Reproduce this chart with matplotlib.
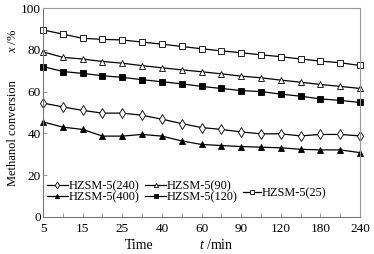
import matplotlib
matplotlib.use("Agg")
import matplotlib.pyplot as plt
import numpy as np

plt.rcParams['font.family'] = ['Liberation Serif', 'DejaVu Serif']
plt.rcParams['mathtext.fontset'] = 'custom'
plt.rcParams['mathtext.it'] = 'Liberation Serif:italic'
plt.rcParams['mathtext.rm'] = 'Liberation Serif'

time_labels = ["5", "10", "15", "20", "25", "30", "40", "50", "60", "75",
               "90", "105", "120", "150", "180", "210", "240"]
shown_labels = ["5", "15", "25", "40", "60", "90", "120", "180", "240"]

hzsm25 = [89.5, 87.5, 85.5, 85.0, 84.7, 83.7, 82.7, 81.6, 80.5, 79.5, 78.6, 77.6, 76.7, 75.6, 74.6, 73.8, 72.5]
hzsm90 = [79.0, 76.4, 75.6, 74.4, 73.6, 72.4, 71.4, 70.4, 69.5, 68.5, 67.4, 66.6, 65.5, 64.5, 63.4, 62.5, 61.5]
hzsm120 = [72.0, 69.6, 68.7, 67.6, 66.8, 65.7, 64.7, 63.7, 62.5, 61.5, 60.5, 60.0, 58.8, 57.8, 56.5, 55.8, 54.8]
hzsm240 = [54.5, 52.7, 51.0, 49.7, 49.7, 48.7, 46.8, 44.7, 42.8, 41.9, 40.7, 39.8, 39.8, 38.8, 39.5, 39.5, 38.8]
hzsm400 = [45.5, 43.0, 41.9, 38.7, 38.7, 39.5, 38.7, 36.4, 34.7, 34.2, 33.7, 33.4, 33.1, 32.4, 32.1, 32.1, 30.8]

fig = plt.figure(figsize=(3.74, 2.54), dpi=100)
ax = fig.add_axes([0.115, 0.1457, 0.8476, 0.8228])

x = np.arange(len(time_labels))
lw = 0.9
ms = 4.2
l240, = ax.plot(x, hzsm240, '-', color='black', lw=lw, marker='d', ms=ms + 0.6,
                mfc='white', mec='black', mew=0.6, label='HZSM-5(240)', clip_on=False)
l400, = ax.plot(x, hzsm400, '-', color='black', lw=lw, marker='^', ms=ms,
                mfc='black', mec='black', mew=0.6, label='HZSM-5(400)', clip_on=False)
l90, = ax.plot(x, hzsm90, '-', color='black', lw=lw, marker='^', ms=ms,
               mfc='white', mec='black', mew=0.6, label='HZSM-5(90)', clip_on=False)
l120, = ax.plot(x, hzsm120, '-', color='black', lw=lw, marker='s', ms=ms - 0.5,
                mfc='black', mec='black', mew=0.6, label='HZSM-5(120)', clip_on=False)
l25, = ax.plot(x, hzsm25, '-', color='black', lw=lw, marker='s', ms=ms,
               mfc='white', mec='black', mew=0.6, label='HZSM-5(25)', clip_on=False)

ax.set_xlim(0, len(time_labels) - 1)
ax.set_ylim(0, 100)
ax.set_yticks(np.arange(0, 101, 20))
ax.set_xticks(x)
ax.set_xticklabels([t if t in shown_labels else "" for t in time_labels])
ax.tick_params(axis='both', direction='in', length=3, width=0.6, labelsize=9.5,
               colors='#888888', labelcolor='black')
ax.tick_params(axis='x', pad=4)
ax.tick_params(axis='y', pad=1.5)
for s in ['top', 'right']:
    ax.spines[s].set_color('#999999')
    ax.spines[s].set_linewidth(0.8)
for s in ['left', 'bottom']:
    ax.spines[s].set_color('#777777')
    ax.spines[s].set_linewidth(0.8)

fig.text(0.035, 0.478, "Methanol conversion", rotation=90,
         ha='center', va='center', fontsize=9)
fig.text(0.035, 0.838, "$x$ /%", rotation=90, ha='center', va='center', fontsize=9)
fig.text(0.372, 0.035, "Time", ha='center', va='center', fontsize=10)
fig.text(0.532, 0.035, "$t$ /min", ha='left', va='center', fontsize=10)

leg1 = fig.legend(handles=[l240, l400, l90, l120], ncol=2, frameon=False,
                  loc='center left', bbox_to_anchor=(0.1257, 0.244),
                  fontsize=8.8, handlelength=1.7, handletextpad=0.05,
                  columnspacing=0.5, labelspacing=-0.1, borderpad=0,
                  borderaxespad=0, markerscale=0.75)
leg2 = fig.legend(handles=[l25], frameon=False, loc='center left',
                  bbox_to_anchor=(0.65, 0.240), fontsize=8.8, handlelength=1.5,
                  handletextpad=0.05, borderpad=0, borderaxespad=0,
                  markerscale=0.75)

fig.savefig("out.png", dpi=100)
